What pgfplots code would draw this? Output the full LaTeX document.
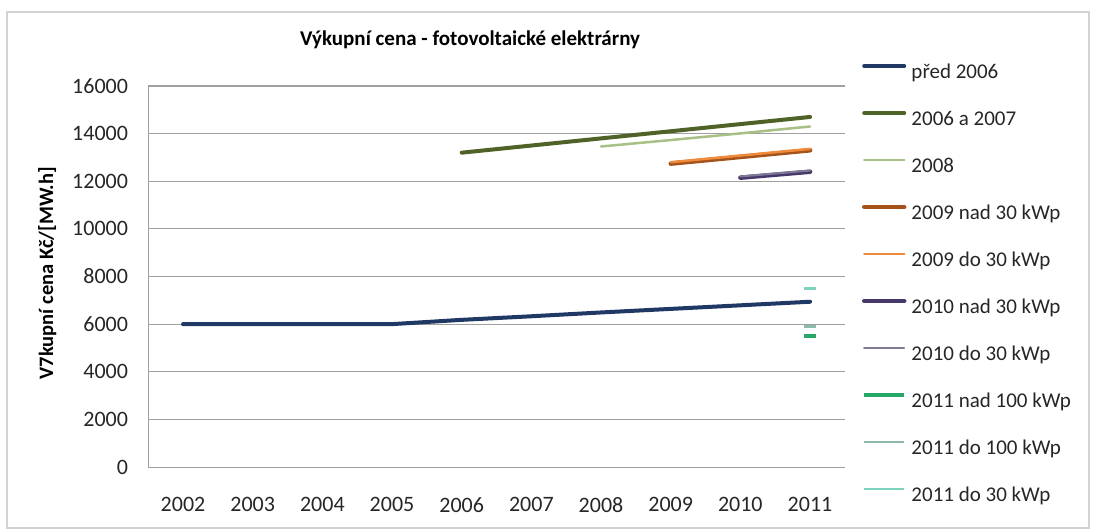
\documentclass[border=0pt]{standalone}
\usepackage{fontspec}
\setmainfont{Carlito}
\usepackage{pgfplots}
\pgfplotsset{compat=1.18}

\definecolor{navy}{HTML}{1F3864}
\definecolor{olivedark}{HTML}{4F6228}
\definecolor{olivelight}{HTML}{A8BF85}
\definecolor{brownorange}{HTML}{A4531A}
\definecolor{lightorange}{HTML}{EE8A3A}
\definecolor{darkpurple}{HTML}{46386A}
\definecolor{purplegray}{HTML}{7E7A95}
\definecolor{green11}{HTML}{27A86A}
\definecolor{grayteal}{HTML}{8DB8AC}
\definecolor{lightteal}{HTML}{7DD3BE}
\definecolor{gridgray}{HTML}{A0A0A0}
\definecolor{textgray}{HTML}{262626}

\begin{document}
\begin{tikzpicture}[x=1pt,y=1pt]
\begin{axis}[
  at={(0,0)}, anchor=south west,
  scale only axis, width=696.7pt, height=381pt,
  xmin=2001.5, xmax=2011.5, ymin=0, ymax=16000,
  xtick={2002,...,2011}, ytick={0,2000,...,16000},
  scaled y ticks=false,
  /pgf/number format/1000 sep={},
  /pgf/number format/assume math mode=true,
  axis x line*=bottom, axis y line*=left,
  axis line style={gridgray, line width=1pt},
  major tick length=0pt,
  ymajorgrids, grid style={gridgray, line width=1pt},
  tick label style={font=\fontsize{22}{26}\selectfont, text=textgray, inner sep=0pt},
  yticklabel style={anchor=east, xshift=-20pt},
  xticklabel style={anchor=north, yshift=-30pt},
  title={Výkupní cena - fotovoltaické elektrárny},
  title style={at={(0.462,1)}, anchor=base, yshift=34pt, inner sep=0pt,
    font=\fontsize{21}{25}\selectfont\bfseries, text=black},
  ylabel={V7kupní cena Kč/[MW.h]},
  ylabel style={at={(axis description cs:0,0.509)}, anchor=center, yshift=101pt,
    inner sep=0pt, font=\fontsize{20.5}{24}\selectfont\bfseries, text=black},
  legend cell align=left,
  legend image code/.code={\draw[mark repeat=2,mark phase=2,#1] plot coordinates {(0pt,7pt) (20pt,7pt) (40pt,7pt)};},
  legend style={at={(1.0245,0.479)}, anchor=west, draw=none, fill=none,
    inner sep=0pt, outer sep=0pt, row sep=27pt,
    font=\fontsize{21}{25}\selectfont, text=textgray,
    nodes={inner sep=0pt, text height=15pt, text depth=5pt},
    /tikz/every odd column/.append style={column sep=5pt}},
]
% tariffs for plants commissioned before 2006
\addplot[navy, line width=4pt, line cap=round, line join=round] coordinates {
  (2002,6000) (2003,6000) (2004,6000) (2005,6000) (2006,6180)
  (2007,6330) (2008,6490) (2009,6640) (2010,6790) (2011,6940)};
\addlegendentry{před 2006}
\addplot[olivedark, line width=4pt, line cap=round, line join=round] coordinates {
  (2006,13200) (2007,13500) (2008,13800) (2009,14100) (2010,14400) (2011,14700)};
\addlegendentry{2006 a 2007}
\addplot[olivelight, line width=2.5pt, line cap=round] coordinates {
  (2008,13460) (2009,13730) (2010,14010) (2011,14300)};
\addlegendentry{2008}
\addplot[brownorange, line width=4.5pt, line cap=round] coordinates {
  (2009,12740) (2010,13020) (2011,13300)};
\addlegendentry{2009 nad 30 kWp}
\addplot[lightorange, line width=2.5pt, line cap=round] coordinates {
  (2009,12800) (2010,13080) (2011,13360)};
\addlegendentry{2009 do 30 kWp}
\addplot[darkpurple, line width=4.5pt, line cap=round] coordinates {
  (2010,12150) (2011,12400)};
\addlegendentry{2010 nad 30 kWp}
\addplot[purplegray, line width=2pt, line cap=round] coordinates {
  (2010,12200) (2011,12450)};
\addlegendentry{2010 do 30 kWp}
% 2011 categories: a single year each
\addplot[green11, line width=4pt, mark=-, mark size=6pt] coordinates {(2011,5500)};
\addlegendentry{2011 nad 100 kWp}
\addplot[grayteal, line width=2.5pt, mark=-, mark size=6pt] coordinates {(2011,5900)};
\addlegendentry{2011 do 100 kWp}
\addplot[lightteal, line width=2.5pt, mark=-, mark size=6pt] coordinates {(2011,7500)};
\addlegendentry{2011 do 30 kWp}
\end{axis}
% chart frame
\draw[gray!35, line width=2pt] (-141,-61) rectangle (941,455);
\pgfresetboundingbox
\useasboundingbox (-148.2,-64) rectangle (944.8,467);
\end{tikzpicture}
\end{document}
